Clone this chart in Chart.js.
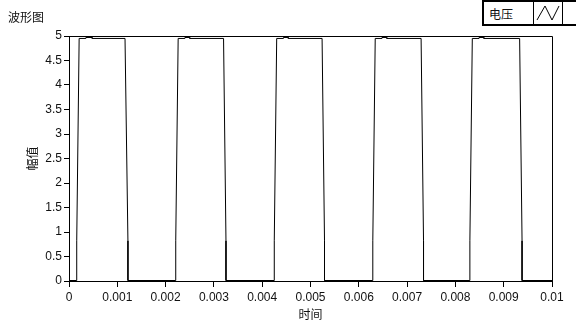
<!DOCTYPE html>
<html>
<head>
<meta charset="utf-8">
<script src="https://cdn.jsdelivr.net/npm/chart.js@4/dist/chart.umd.min.js"></script>
<style>
  html, body { margin: 0; padding: 0; background: #fff; }
  body { width: 576px; height: 327px; position: relative; overflow: hidden;
         font-family: "Liberation Sans", "Noto Sans CJK SC", sans-serif; }
  #wrap { position: absolute; left: 0; top: 0; width: 576px; height: 327px; }
  .title { position: absolute; left: 8px; top: 8px; font-size: 12px; color: #111; }
  .legend { position: absolute; left: 482px; top: 0px; width: 92px; height: 22px;
            border: 2px solid #000; background: #fff; }
  .legend .name { position: absolute; left: 5px; top: 3px; font-size: 12px; color: #111; }
  .legend svg { position: absolute; left: 49px; top: -1px; }
</style>
</head>
<body>
<div id="wrap"><canvas id="chart" width="576" height="327"></canvas></div>
<div class="title">波形图</div>
<div class="legend">
  <span class="name">电压</span>
  <svg width="31" height="24">
    <rect x="0.5" y="0.5" width="29" height="23" fill="#fff" stroke="#000"/>
    <polyline points="4,19 12,5 19,19 26,5" fill="none" stroke="#000" stroke-width="1"/>
  </svg>
</div>
<script>
// time (s) where each edge starts / ends
const riseStart = [0.00016, 0.00221, 0.00425, 0.00629, 0.0083];
const riseTop   = [0.00021, 0.00226, 0.0043, 0.00634, 0.00835];
const fallTop   = [0.00116, 0.0032, 0.00524, 0.00729, 0.00933];
const fallEnd   = [0.00122, 0.00325, 0.00529, 0.00734, 0.00938];
const rippleStart = [0.00035, 0.0024, 0.00444, 0.00648, 0.00849];
const rippleEnd   = [0.00048, 0.0025, 0.00454, 0.00658, 0.00859];

const lowLevel = 0.01;
const edgeLevel = 0.82;
const highLevel = 4.95;
const rippleLevel = 4.97;

const xMin = 0, xMax = 0.01;
const yTicksStep = 0.5;
const xTicksStep = 0.001;

const points = [{ x: 0, y: lowLevel }];
for (let i = 0; i < riseStart.length; i++) {
  points.push({ x: riseStart[i], y: lowLevel });
  points.push({ x: riseStart[i], y: edgeLevel });
  points.push({ x: riseTop[i], y: highLevel });
  points.push({ x: rippleStart[i], y: highLevel });
  points.push({ x: rippleStart[i], y: rippleLevel });
  points.push({ x: rippleEnd[i], y: rippleLevel });
  points.push({ x: rippleEnd[i], y: highLevel });
  points.push({ x: fallTop[i], y: highLevel });
  points.push({ x: fallEnd[i], y: edgeLevel });
  points.push({ x: fallEnd[i], y: lowLevel });
}
points.push({ x: xMax, y: lowLevel });

const frame = {
  id: 'frame',
  afterDraw(chart) {
    const { ctx, chartArea: a } = chart;
    ctx.save();
    ctx.strokeStyle = '#000';
    ctx.lineWidth = 1;
    ctx.beginPath();
    ctx.moveTo(a.left, a.top + 0.5);
    ctx.lineTo(a.right + 0.5, a.top + 0.5);
    ctx.lineTo(a.right + 0.5, a.bottom);
    ctx.stroke();
    ctx.restore();
  }
};

const tickFont = { family: '"Liberation Sans", "Noto Sans CJK SC", sans-serif', size: 12 };
const fmt = v => String(Number(Number(v).toFixed(4)));

new Chart(document.getElementById('chart'), {
  type: 'scatter',
  data: {
    datasets: [{
      label: '电压',
      data: points,
      showLine: true,
      borderColor: '#000',
      borderWidth: 1,
      pointRadius: 0,
      tension: 0
    }]
  },
  options: {
    responsive: false,
    animation: false,
    layout: { padding: { top: 36, right: 24, left: 0, bottom: 0 } },
    plugins: { legend: { display: false }, tooltip: { enabled: false } },
    scales: {
      x: {
        type: 'linear',
        min: xMin,
        max: xMax,
        afterFit: s => { s.height = 46; },
        ticks: { stepSize: xTicksStep, callback: fmt, color: '#111', font: tickFont,
                 padding: 3, maxRotation: 0, autoSkip: false },
        grid: { drawOnChartArea: false, color: '#000', tickLength: 6 },
        border: { color: '#000', width: 1 },
        title: { display: true, text: '时间', color: '#111', font: tickFont,
                 padding: { top: 0, bottom: 4 } }
      },
      y: {
        min: 0,
        max: 5,
        afterFit: s => { s.width = 69; },
        ticks: { stepSize: yTicksStep, callback: fmt, color: '#111', font: tickFont, padding: 2 },
        grid: { drawOnChartArea: false, color: '#000', tickLength: 5 },
        border: { color: '#000', width: 1 },
        title: { display: true, text: '幅值', color: '#111', font: tickFont,
                 padding: { top: 26, bottom: 0 } }
      }
    }
  },
  plugins: [frame]
});
</script>
</body>
</html>
